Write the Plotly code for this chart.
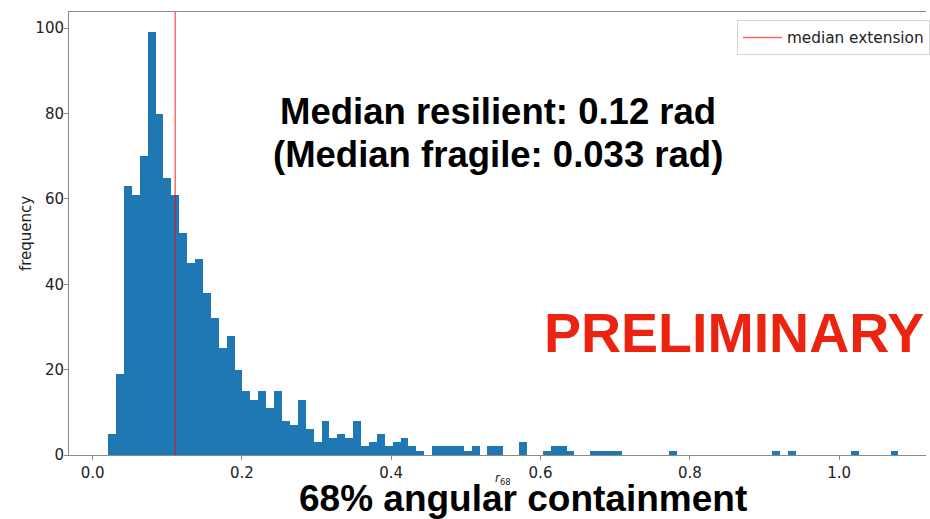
import plotly.graph_objects as go

# Histogram of the 68% angular containment radius (100 equal-width bins)
bin_start = 0.0208
bin_width = 0.010587
counts = [
    5, 19, 63, 61, 70, 99, 80, 65, 61, 52,
    45, 46, 38, 32, 25, 28, 20, 15, 13, 15,
    11, 15, 8, 7, 13, 6, 3, 8, 4, 5,
    4, 8, 2, 3, 5, 2, 3, 4, 2, 1,
    0, 2, 2, 2, 2, 1, 2, 0, 2, 2,
    0, 0, 3, 0, 0, 1, 2, 2, 1, 0,
    0, 1, 1, 1, 1, 0, 0, 0, 0, 0,
    0, 1, 0, 0, 0, 0, 0, 0, 0, 0,
    0, 0, 0, 0, 1, 0, 1, 0, 0, 0,
    0, 0, 0, 0, 1, 0, 0, 0, 0, 1,
]
median_extension = 0.1107
x_ticks = [0.0, 0.2, 0.4, 0.6, 0.8, 1.0]
y_ticks = [0, 20, 40, 60, 80, 100]

centers = [bin_start + (i + 0.5) * bin_width for i in range(len(counts))]

W, H = 930, 519
ML, MR, MT, MB = 69, 0, 12, 64
PW, PH = W - ML - MR, H - MT - MB
Y_TOP = 103.8


def px(x):
    return (x - ML) / PW


def py(y):
    return (H - MB - y) / PH


fig = go.Figure()
fig.add_trace(go.Bar(
    x=centers, y=counts, width=bin_width,
    marker=dict(color="#1f77b4", line=dict(width=0)),
    showlegend=False, hoverinfo="x+y",
))
fig.add_trace(go.Scatter(
    x=[median_extension, median_extension], y=[0, Y_TOP],
    mode="lines", name="median extension",
    line=dict(color="rgba(255,0,0,0.62)", width=1.4),
))

axis_font = dict(family="DejaVu Sans", size=15, color="#222222")
fig.update_xaxes(
    range=[-0.0316, -0.0316 + PW / 750.0],
    tickvals=x_ticks, ticktext=[f"{v:.1f}" for v in x_ticks],
    ticks="outside", ticklen=4, tickcolor="#888888",
    showline=True, linecolor="#8a8a8a", linewidth=1, mirror=True,
    showgrid=False, zeroline=False, tickfont=axis_font,
)
fig.update_yaxes(
    range=[0, Y_TOP],
    tickvals=y_ticks,
    ticks="outside", ticklen=4, tickcolor="#888888", ticklabelstandoff=-3,
    showline=True, linecolor="#8a8a8a", linewidth=1, mirror=False,
    showgrid=False, zeroline=False, tickfont=axis_font,
    title=dict(text="frequency", font=dict(family="DejaVu Sans", size=15, color="#222222"), standoff=0),
)

bold = dict(family="Liberation Sans", color="black")
annotations = [
    dict(x=px(500), y=py(111.7), text="<b>Median resilient: 0.12 rad</b>",
         font=dict(size=36.5, **bold)),
    dict(x=px(500), y=py(154.7), text="<b>(Median fragile: 0.033 rad)</b>",
         font=dict(size=36.5, **bold)),
    dict(x=px(736.7), y=py(333.3), text="<b>PRELIMINARY</b>",
         font=dict(family="Liberation Sans", size=55.5, color="#eb2412")),
    dict(x=px(525), y=py(498.3), text="<b>68% angular containment</b>",
         font=dict(size=37, **bold)),
    dict(x=px(505), y=py(479), text="<i>r</i><sub>68</sub>",
         font=dict(family="DejaVu Sans", size=12, color="#222222")),
]
for a in annotations:
    a.update(xref="paper", yref="paper", xanchor="center", yanchor="middle",
             showarrow=False)

fig.update_layout(
    width=W, height=H, autosize=False,
    margin=dict(l=ML, r=MR, t=MT, b=MB, pad=0),
    paper_bgcolor="white", plot_bgcolor="white",
    bargap=0,
    annotations=annotations,
    legend=dict(
        x=px(740), y=py(20), xanchor="left", yanchor="top",
        bgcolor="white", bordercolor="#d4d4d4", borderwidth=1,
        itemwidth=39,
        font=dict(family="DejaVu Sans", size=15.3, color="#222222"),
    ),
)

fig.write_html("out.html")
